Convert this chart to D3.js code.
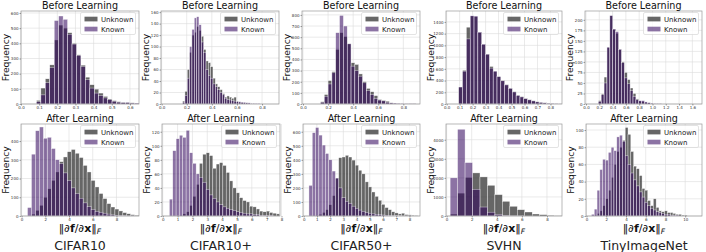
<!DOCTYPE html>
<html>
<head>
<meta charset="utf-8">
<script src="https://cdn.jsdelivr.net/npm/d3@7"></script>
<style>
    body {margin: 0; background: #fff;}
    svg text {font-family: "DejaVu Sans", sans-serif;}
</style>
</head>
<body>
<div class="content"></div>
<script>
// dataset names under each column
const datasets = ['CIFAR10', 'CIFAR10+', 'CIFAR50+', 'SVHN', 'TinyImageNet'];
const seriesNames = ['Unknown', 'Known'];

// ---- before learning (top row) ----
const beforeBinStart = [0.085, 0.167, 0.139, 0.093, 0.185];
const beforeBinWidth = [0.0245, 0.0186, 0.0305, 0.0295, 0.0435];
const beforeUnknown = [
    [24, 105, 166, 258, 422, 520, 500, 470, 400, 324, 256, 177, 127, 98, 72, 50, 33, 22, 15, 11, 10, 8, 4],
    [5, 22, 60, 90, 120, 125, 135, 128, 118, 95, 75, 72, 65, 45, 35, 30, 25, 18, 12, 14, 12, 10, 12, 5, 3, 3, 2, 2, 1, 1, 1, 0, 0],
    [20, 85, 210, 290, 490, 640, 605, 540, 370, 355, 270, 200, 140, 110, 75, 40, 32, 25, 10, 8, 5, 4, 3, 3, 2],
    [290, 575, 1310, 1500, 1490, 1225, 1020, 850, 640, 560, 470, 400, 330, 270, 210, 150, 125, 95, 72, 55, 38, 28, 20, 14, 10, 6, 4],
    [8, 24, 64, 135, 210, 178, 168, 130, 100, 75, 58, 38, 25, 12, 7, 6, 4, 3, 2, 1, 1, 1]
];
const beforeKnown = [
    [15, 60, 140, 240, 550, 580, 558, 460, 395, 320, 247, 160, 105, 72, 55, 40, 28, 18, 12, 9, 10, 6, 6],
    [3, 15, 45, 100, 130, 150, 152, 138, 108, 90, 60, 50, 45, 35, 30, 25, 20, 16, 10, 8, 7, 6, 5, 4, 4, 3, 3, 2, 2, 1, 1, 1, 1],
    [15, 70, 180, 280, 640, 795, 700, 540, 340, 300, 250, 190, 120, 85, 50, 35, 28, 15, 10, 8, 6, 4, 3, 2, 2],
    [290, 560, 1110, 1505, 1500, 1225, 1020, 850, 612, 560, 465, 395, 325, 265, 205, 145, 120, 90, 70, 52, 36, 27, 19, 13, 9, 6, 4],
    [6, 22, 50, 135, 210, 178, 172, 130, 98, 62, 48, 32, 18, 10, 8, 8, 5, 3, 2, 1, 1, 1]
];
const beforeXDomain = [[0, 0.65], [-0.005, 0.935], [-0.008, 0.933], [-0.005, 0.889], [-0.015, 1.745]];
const beforeYMax = [613, 162, 835, 1586, 221];
const beforeXTicks = [
    [0, 0.1, 0.2, 0.3, 0.4, 0.5, 0.6],
    [0, 0.2, 0.4, 0.6, 0.8],
    [0, 0.2, 0.4, 0.6, 0.8],
    [0, 0.1, 0.2, 0.3, 0.4, 0.5, 0.6, 0.7, 0.8],
    [0, 0.2, 0.4, 0.6, 0.8, 1.0, 1.2, 1.4, 1.6]
];
const beforeYTicks = [
    [0, 100, 200, 300, 400, 500, 600],
    [0, 20, 40, 60, 80, 100, 120, 140, 160],
    [0, 100, 200, 300, 400, 500, 600, 700, 800],
    [0, 200, 400, 600, 800, 1000, 1200, 1400],
    [0, 25, 50, 75, 100, 125, 150, 175, 200]
];

// ---- after learning (bottom row) ----
const afterBinStart = [0.5, 0.45, 0.4, 0.28, 0.5];
const afterBinWidth = [0.335, 0.225, 0.25, 0.595, 0.285];
const afterUnknown = [
    [0, 10, 30, 57, 100, 145, 190, 235, 290, 315, 343, 355, 335, 312, 270, 235, 190, 155, 120, 93, 66, 48, 37, 27, 18, 12, 7, 4],
    [0, 0, 0, 1, 3, 6, 15, 28, 45, 75, 88, 90, 86, 68, 74, 76, 72, 62, 50, 40, 33, 26, 22, 20, 14, 13, 10, 7, 6, 7, 5, 4, 3],
    [0, 2, 5, 12, 25, 45, 80, 145, 270, 415, 420, 432, 420, 398, 362, 326, 300, 243, 207, 171, 140, 112, 83, 60, 45, 30, 22, 15, 20, 10, 8, 5, 3],
    [100, 1200, 2020, 2260, 2050, 1610, 1120, 770, 510, 330, 210, 105, 70, 35, 15],
    [0, 1, 3, 6, 12, 20, 30, 45, 60, 75, 80, 88, 103, 95, 75, 58, 55, 47, 32, 30, 18, 12, 20, 10, 6, 5, 6, 4, 4, 3, 2, 2, 1, 1]
];
const afterKnown = [
    [45, 330, 455, 475, 415, 420, 360, 300, 280, 230, 190, 150, 120, 95, 70, 50, 35, 25, 20, 15, 10, 6, 4, 3, 2, 1, 1, 0],
    [24, 93, 110, 115, 112, 122, 90, 75, 60, 55, 48, 38, 30, 25, 20, 16, 13, 11, 9, 8, 6, 5, 4, 3, 3, 2, 2, 1, 1, 1, 1, 0, 0],
    [218, 593, 630, 576, 505, 445, 400, 320, 270, 200, 130, 105, 90, 70, 55, 42, 33, 25, 20, 15, 12, 9, 7, 5, 4, 3, 2, 2, 1, 1, 1, 0, 0],
    [2000, 4550, 2800, 1400, 470, 200, 80, 30, 10, 5, 0, 0, 0, 0, 0],
    [2, 8, 30, 54, 66, 65, 74, 80, 76, 92, 94, 87, 70, 60, 50, 42, 35, 28, 22, 16, 12, 9, 7, 5, 4, 3, 2, 2, 1, 1, 1, 0, 0, 0]
];
const afterXDomain = [[-0.05, 9.9], [-0.05, 7.9], [-0.05, 8.8], [-0.05, 9.2], [-0.05, 11.7]];
const afterYMax = [491, 131, 655, 4825, 107];
const afterXTicks = [
    [0, 2, 4, 6, 8],
    [0, 1, 2, 3, 4, 5, 6, 7, 8],
    [0, 1, 2, 3, 4, 5, 6, 7, 8],
    [0, 2, 4, 6, 8],
    [0, 2, 4, 6, 8, 10]
];
const afterYTicks = [
    [0, 100, 200, 300, 400],
    [0, 20, 40, 60, 80, 100, 120],
    [0, 100, 200, 300, 400, 500, 600],
    [0, 1000, 2000, 3000, 4000],
    [0, 20, 40, 60, 80, 100]
];

(function () {
    let width = 706, height = 252;
    let fills = ['#333333', '#2d005a'];
    let alphas = [0.75, 0.55];

    // panel frames (pixels)
    let topLefts = [21, 161, 302, 446, 585], topRights = [139, 279, 420, 562, 702];
    let botLefts = [21, 162, 303, 446, 586], botRights = [139, 280, 420, 562, 702];

    let svg = d3.select('.content').append('svg')
        .attr('width', width)
        .attr('height', height);
    let defs = svg.append('defs');

    let panelId = 0;
    function drawPanel(o) {
        let id = 'clip' + (panelId++);
        let g = svg.append('g');
        let x = d3.scaleLinear().domain(o.xDomain).range([o.left, o.right]);
        let y = d3.scaleLinear().domain([0, o.yMax]).range([o.bottom, o.top]);

        defs.append('clipPath').attr('id', id).append('rect')
            .attr('x', o.left).attr('y', o.top)
            .attr('width', o.right - o.left).attr('height', o.bottom - o.top);

        // сетка
        g.append('g').selectAll('line').data(o.xTicks).join('line')
            .attr('x1', d => x(d)).attr('x2', d => x(d))
            .attr('y1', o.top).attr('y2', o.bottom)
            .attr('stroke', '#dcdcdc').attr('stroke-width', 0.6);
        g.append('g').selectAll('line').data(o.yTicks).join('line')
            .attr('x1', o.left).attr('x2', o.right)
            .attr('y1', d => y(d)).attr('y2', d => y(d))
            .attr('stroke', '#dcdcdc').attr('stroke-width', 0.6);

        // гистограммы, Unknown снизу, Known сверху
        let bars = g.append('g').attr('clip-path', 'url(#' + id + ')');
        [o.unknown, o.known].forEach(function (counts, si) {
            bars.append('g').selectAll('rect').data(counts).join('rect')
                .attr('x', (d, i) => x(o.start + i * o.binW))
                .attr('width', (d, i) => x(o.start + (i + 1) * o.binW) - x(o.start + i * o.binW))
                .attr('y', d => y(d))
                .attr('height', d => y(0) - y(d))
                .attr('fill', fills[si])
                .attr('fill-opacity', alphas[si])
                .attr('stroke', '#fff')
                .attr('stroke-width', 0.45)
                .attr('stroke-opacity', 0.8);
        });

        // рамка
        g.append('rect')
            .attr('x', o.left).attr('y', o.top)
            .attr('width', o.right - o.left).attr('height', o.bottom - o.top)
            .attr('fill', 'none').attr('stroke', '#9a9a9a').attr('stroke-width', 0.7);

        let xAxis = d3.axisBottom(x).tickValues(o.xTicks).tickFormat(o.xFmt)
            .tickSizeInner(1.5).tickSizeOuter(0).tickPadding(1);
        let yAxis = d3.axisLeft(y).tickValues(o.yTicks).tickFormat(d3.format('d'))
            .tickSizeInner(1.5).tickSizeOuter(0).tickPadding(1);
        let gx = g.append('g').attr('transform', 'translate(0,' + o.bottom + ')').call(xAxis);
        let gy = g.append('g').attr('transform', 'translate(' + o.left + ',0)').call(yAxis);
        [gx, gy].forEach(function (ax) {
            ax.select('.domain').remove();
            ax.selectAll('line').attr('stroke', '#444').attr('stroke-width', 0.5);
            ax.selectAll('text').attr('font-size', 4).attr('fill', '#333')
                .attr('font-family', 'DejaVu Sans');
        });

        // title
        g.append('text')
            .attr('x', (o.left + o.right) / 2).attr('y', o.top - 2.3)
            .attr('text-anchor', 'middle').attr('font-size', 9.6).attr('fill', '#111')
            .text(o.title);

        // ylabel
        g.append('text')
            .attr('transform', 'translate(' + (o.left - 12.2) + ',' + ((o.top + o.bottom) / 2) + ') rotate(-90)')
            .attr('text-anchor', 'middle').attr('font-size', 9.2).attr('fill', '#111')
            .text('Frequency');

        // legend
        let lw = 55, lh = 22;
        let lx = o.right - 3.5 - lw, ly = o.top + 1.5;
        let lg = g.append('g').attr('transform', 'translate(' + lx + ',' + ly + ')');
        lg.append('rect').attr('width', lw).attr('height', lh).attr('rx', 1.5)
            .attr('fill', '#fff').attr('fill-opacity', 0.8)
            .attr('stroke', '#d0d0d0').attr('stroke-width', 0.6);
        seriesNames.forEach(function (name, si) {
            lg.append('rect')
                .attr('x', 4).attr('y', 4.2 + si * 10)
                .attr('width', 13).attr('height', 4.7)
                .attr('fill', fills[si]).attr('fill-opacity', alphas[si]);
            lg.append('text')
                .attr('x', 20.5).attr('y', 9.2 + si * 10)
                .attr('font-size', 7).attr('fill', '#222')
                .text(name);
        });
    }

    for (let i = 0; i < 5; i++) {
        drawPanel({
            left: topLefts[i], right: topRights[i], top: 11, bottom: 104,
            xDomain: beforeXDomain[i], yMax: beforeYMax[i],
            xTicks: beforeXTicks[i], yTicks: beforeYTicks[i], xFmt: d3.format('.1f'),
            start: beforeBinStart[i], binW: beforeBinWidth[i],
            unknown: beforeUnknown[i], known: beforeKnown[i],
            title: 'Before Learning'
        });
        drawPanel({
            left: botLefts[i], right: botRights[i], top: 124, bottom: 216,
            xDomain: afterXDomain[i], yMax: afterYMax[i],
            xTicks: afterXTicks[i], yTicks: afterYTicks[i], xFmt: d3.format('d'),
            start: afterBinStart[i], binW: afterBinWidth[i],
            unknown: afterUnknown[i], known: afterKnown[i],
            title: 'After Learning'
        });

        let cx = (botLefts[i] + botRights[i]) / 2;
        // ‖∂f/∂x‖_F
        let xl = svg.append('text')
            .attr('x', cx).attr('y', 231.5)
            .attr('text-anchor', 'middle').attr('font-size', 11).attr('fill', '#111');
        xl.append('tspan').text('‖');
        xl.append('tspan').text('∂');
        xl.append('tspan').attr('font-weight', 'bold').text('f');
        xl.append('tspan').text('/∂');
        xl.append('tspan').attr('font-weight', 'bold').text('x');
        xl.append('tspan').text('‖');
        xl.append('tspan').attr('font-style', 'italic').attr('font-size', 7.5).attr('dy', 2.5).text('F');

        svg.append('text')
            .attr('x', cx).attr('y', 250)
            .attr('text-anchor', 'middle')
            .attr('font-family', '"Open Sans", sans-serif')
            .attr('font-size', 12.5).attr('fill', '#222')
            .text(datasets[i]);
    }
})();
</script>
</body>
</html>
